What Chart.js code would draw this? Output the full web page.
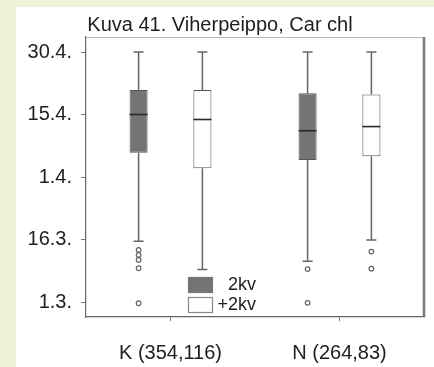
<!DOCTYPE html>
<html>
<head>
<meta charset="utf-8">
<script src="https://cdn.jsdelivr.net/npm/chart.js"></script>
<style>
  html, body { margin: 0; padding: 0; background: #eef3da; }
  #panel { position: absolute; left: 16px; top: 7px; width: 418px; height: 360px; background: #fff; }
</style>
</head>
<body>
<div id="panel"><canvas id="chart" width="418" height="360"></canvas></div>
<script>
// y-akseli: päiviä 1.3. alkaen, jaot tasavälein
var groups = ['K (354,116)', 'N (264,83)'];
var seriesNames = ['2kv', '+2kv'];
var tickValues = [0, 15, 30, 45, 60];
var tickLabels = ['1.3.', '16.3.', '1.4.', '15.4.', '30.4.'];

// 2kv
var min2kv = [14.6, 9.8];
var q1_2kv = [35.8, 34.1];
var med2kv = [45.0, 41.1];
var q3_2kv = [50.9, 50.1];
var max2kv = [60, 60];
var out2kv = [[12.5, 11.3, 10.1, 8.1, -0.3], [7.9, -0.2]];

// +2kv
var minPlus = [7.8, 14.9];
var q1Plus = [32.1, 35.0];
var medPlus = [43.8, 42.1];
var q3Plus = [50.9, 49.8];
var maxPlus = [60, 60];
var outPlus = [[], [12.1, 8.0]];

var stats = [
  { min: min2kv, med: med2kv, max: max2kv, out: out2kv },
  { min: minPlus, med: medPlus, max: maxPlus, out: outPlus }
];

function pairs(a, b) {
  return a.map(function(v, i) { return [v, b[i]]; });
}

var lineCol = '#666';
var textCol = '#1e1e1e';
var fills = ['#747474', '#ffffff'];
var borders = ['#555', '#555'];

Chart.defaults.font.family = "'Liberation Sans', Arial, sans-serif";
Chart.defaults.color = textCol;

// whiskers, medians and outliers on top of the floating bars
var boxPlot = {
  id: 'boxPlot',
  afterDatasetsDraw: function(chart) {
    var ctx = chart.ctx, y = chart.scales.y;
    ctx.save();
    chart.data.datasets.forEach(function(ds, di) {
      var s = stats[di];
      chart.getDatasetMeta(di).data.forEach(function(bar, i) {
        var x = bar.x, half = bar.width / 2;
        var q1 = ds.data[i][0], q3 = ds.data[i][1];
        ctx.strokeStyle = lineCol;
        ctx.lineWidth = 1.5;
        ctx.beginPath();
        ctx.moveTo(x, y.getPixelForValue(q3));
        ctx.lineTo(x, y.getPixelForValue(s.max[i]));
        ctx.moveTo(x, y.getPixelForValue(q1));
        ctx.lineTo(x, y.getPixelForValue(s.min[i]));
        ctx.moveTo(x - 5, y.getPixelForValue(s.max[i]));
        ctx.lineTo(x + 5, y.getPixelForValue(s.max[i]));
        ctx.moveTo(x - 5, y.getPixelForValue(s.min[i]));
        ctx.lineTo(x + 5, y.getPixelForValue(s.min[i]));
        ctx.stroke();

        ctx.strokeStyle = '#2a2a2a';
        ctx.lineWidth = 1.6;
        ctx.beginPath();
        ctx.moveTo(x - half, y.getPixelForValue(s.med[i]));
        ctx.lineTo(x + half, y.getPixelForValue(s.med[i]));
        ctx.stroke();

        ctx.strokeStyle = lineCol;
        ctx.lineWidth = 1.2;
        ctx.fillStyle = '#fff';
        s.out[i].forEach(function(v) {
          ctx.beginPath();
          ctx.arc(x, y.getPixelForValue(v), 2.3, 0, Math.PI * 2);
          ctx.fill();
          ctx.stroke();
        });
      });
    });
    ctx.restore();
  },
  afterDraw: function(chart) {
    var ctx = chart.ctx, a = chart.chartArea;
    ctx.save();
    // frame: light top edge, heavier right edge
    ctx.strokeStyle = '#b8b8b8';
    ctx.lineWidth = 1;
    ctx.beginPath();
    ctx.moveTo(a.left, a.top + 0.5);
    ctx.lineTo(a.right, a.top + 0.5);
    ctx.stroke();
    ctx.strokeStyle = '#7a7a7a';
    ctx.lineWidth = 2.5;
    ctx.beginPath();
    ctx.moveTo(a.right, a.top);
    ctx.lineTo(a.right, a.bottom);
    ctx.stroke();

    // legend inside the plot, near the bottom
    var bx = a.left + 102, by = a.bottom - 40;
    ctx.font = "18px 'Liberation Sans', Arial, sans-serif";
    ctx.textAlign = 'right';
    ctx.textBaseline = 'middle';
    seriesNames.forEach(function(name, k) {
      var top = by + k * 20;
      ctx.fillStyle = fills[k];
      ctx.fillRect(bx, top, 25, 16);
      ctx.strokeStyle = k === 0 ? '#777' : '#888';
      ctx.lineWidth = 1.2;
      ctx.strokeRect(bx + 0.5, top + 0.5, 24, 15);
      ctx.fillStyle = textCol;
      ctx.fillText(name, bx + 68, top + 8);
    });
    ctx.restore();
  }
};

new Chart(document.getElementById('chart'), {
  type: 'bar',
  data: {
    labels: groups,
    datasets: [
      {
        label: seriesNames[0],
        data: pairs(q1_2kv, q3_2kv),
        backgroundColor: fills[0],
        borderColor: borders[0],
        borderWidth: 1,
        borderSkipped: false,
        categoryPercentage: 0.755,
        barPercentage: 0.283
      },
      {
        label: seriesNames[1],
        data: pairs(q1Plus, q3Plus),
        backgroundColor: fills[1],
        borderColor: borders[1],
        borderWidth: 1,
        borderSkipped: false,
        categoryPercentage: 0.755,
        barPercentage: 0.283
      }
    ]
  },
  options: {
    responsive: false,
    animation: false,
    layout: { padding: { left: 0, right: 10, top: 0, bottom: 0 } },
    plugins: {
      legend: { display: false },
      tooltip: { enabled: false },
      title: {
        display: true,
        text: 'Kuva 41. Viherpeippo, Car chl',
        color: textCol,
        font: { size: 20, weight: 'normal' },
        padding: { top: 6, bottom: 0 }
      }
    },
    scales: {
      x: {
        offset: true,
        grid: { offset: false, drawOnChartArea: false, drawTicks: true, tickLength: 4, color: '#777' },
        border: { color: '#666', width: 1.2 },
        ticks: { padding: 20, color: textCol, font: { size: 20 } },
        afterFit: function(s) { s.height = 50; }
      },
      y: {
        min: -3.6,
        max: 63.6,
        afterBuildTicks: function(s) {
          s.ticks = tickValues.map(function(v) { return { value: v }; });
        },
        grid: { drawOnChartArea: false, tickLength: 5, color: '#777' },
        border: { color: '#666', width: 1.2 },
        ticks: {
          padding: 9,
          color: textCol,
          font: { size: 20 },
          callback: function(v, i) { return tickLabels[i]; }
        },
        afterFit: function(s) { s.width = 70; }
      }
    }
  },
  plugins: [boxPlot]
});
</script>
</body>
</html>
